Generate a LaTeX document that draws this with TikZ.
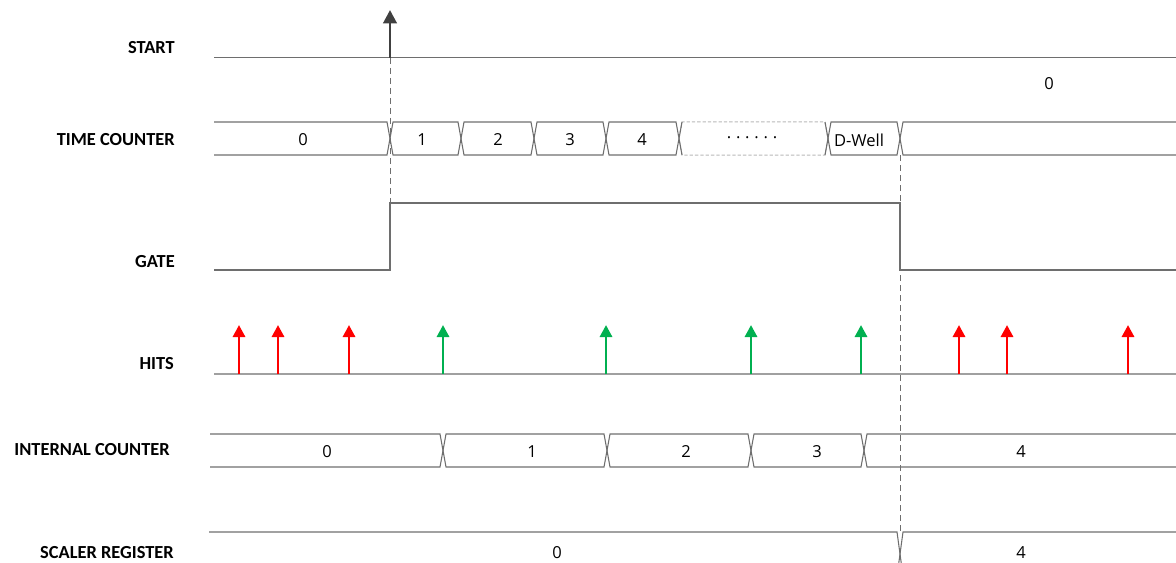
\documentclass[tikz,border=0pt]{standalone}
\usepackage{fontspec}
\setmainfont{Open Sans}
\newfontfamily\labfont{Carlito}
\usetikzlibrary{arrows.meta}
\definecolor{wire}{RGB}{110,110,110}
\definecolor{basec}{RGB}{160,160,160}
\definecolor{hitred}{RGB}{255,0,0}
\definecolor{hitgreen}{RGB}{0,176,80}
\definecolor{startc}{RGB}{64,64,64}
\definecolor{dotc}{RGB}{185,185,185}
\tikzset{
  lbl/.style={anchor=east, font=\labfont\bfseries\fontsize{13.8}{16}\selectfont, inner sep=0pt},
  val/.style={font=\fontsize{12.4}{14}\selectfont, inner sep=0pt},
  wireline/.style={draw=wire, line width=0.8pt},
  guide/.style={draw=wire, line width=0.75pt, dash pattern=on 4.5pt off 3pt},
  hit/.style={line width=2.2pt, -{Triangle[width=9pt,length=9pt]}},
}
% bus segment between transitions #1 and #2, top #3, bottom #4, style #5
\newcommand\busseg[5]{%
  \draw[#5] (#1,{(#3+#4)/2}) -- (#1+3,#3) -- (#2-3,#3) -- (#2,{(#3+#4)/2}) -- (#2-3,#4) -- (#1+3,#4) -- cycle;}
\newcommand\busfirst[4]{%
  \draw[wireline] (#1,#3) -- (#2-3,#3) -- (#2,{(#3+#4)/2}) -- (#2-3,#4) -- (#1,#4);}
\newcommand\buslast[4]{%
  \draw[wireline] (#2,#3) -- (#1+3,#3) -- (#1,{(#3+#4)/2}) -- (#1+3,#4) -- (#2,#4);}
\newcommand\dotgap{\hspace{3.6pt}}
\begin{document}
\begin{tikzpicture}[x=0.75pt,y=-0.75pt]
\useasboundingbox (0,0) rectangle (1176,563);

% labels
\node[lbl] (lstart) at (175,48) {START};
\node[lbl] (ltc) at (175,140) {TIME COUNTER};
\node[lbl] (lgate) at (175,262) {GATE};
\node[lbl] (lhits) at (174,364) {HITS};
\node[lbl] (lic) at (170,450) {INTERNAL COUNTER};
\node[lbl] (lsr) at (174,553) {SCALER REGISTER};

% guide coordinates
\coordinate (g1top) at (390,58);
\coordinate (g1bot) at (390,203);
\coordinate (g2top) at (900,155);
\coordinate (g2bot) at (900,532);
\draw[guide] (g1top) -- (g1bot);
\draw[guide] (g2top) -- (g2bot);

% START
\draw[wire, line width=0.75pt] (214,58) -- (1176,58);
\coordinate (sbase) at (390,58);
\coordinate (stip) at (390,10);
\draw[startc, line width=2.2pt, -{Triangle[width=10pt,length=10pt]}] (sbase) -- (stip);
\node[val] (szero) at (1049,84) {0};

% TIME COUNTER bus
\busfirst{214}{390}{122}{155}
\busseg{390}{461}{122}{155}{wireline}
\busseg{461}{534}{122}{155}{wireline}
\busseg{534}{606}{122}{155}{wireline}
\busseg{606}{679}{122}{155}{wireline}
\busseg{679}{828}{122}{155}{draw=dotc, line width=0.75pt, dash pattern=on 2.5pt off 1.5pt}
\draw[wireline] (679,138.5) -- (682,122) (679,138.5) -- (682,155) (828,138.5) -- (825,122) (828,138.5) -- (825,155);
\busseg{828}{900}{122}{155}{wireline}
\buslast{900}{1176}{122}{155}
\node[val] (t0) at (303,140) {0};
\node[val] (t1) at (422,140) {1};
\node[val] (t2) at (498,140) {2};
\node[val] (t3) at (570,140) {3};
\node[val] (t4) at (642,140) {4};
\node[val] (tdots) at (752,140) {·\dotgap·\dotgap·\dotgap·\dotgap·\dotgap·};
\node[val] (tdw) at (859,140) {D-Well};

% GATE
\draw[wireline] (214,270) -- (390,270) -- (390,203) -- (900,203) -- (900,270) -- (1176,270);

% HITS
\draw[draw=basec, line width=1.6pt] (214,374) -- (1176,374);
\foreach \x [count=\i] in {239,278,349,959,1007,1128} {
  \coordinate (hr\i) at (\x,374);
  \coordinate (hrt\i) at (\x,325);
  \draw[hit, hitred] (hr\i) -- (hrt\i);
}
\foreach \x [count=\i] in {443,606,751,861} {
  \coordinate (hg\i) at (\x,374);
  \coordinate (hgt\i) at (\x,325);
  \draw[hit, hitgreen] (hg\i) -- (hgt\i);
}

% INTERNAL COUNTER bus
\busfirst{210}{443}{434}{467}
\busseg{443}{607}{434}{467}{wireline}
\busseg{607}{751}{434}{467}{wireline}
\busseg{751}{864}{434}{467}{wireline}
\buslast{864}{1176}{434}{467}
\node[val] (i0) at (327,452) {0};
\node[val] (i1) at (532,452) {1};
\node[val] (i2) at (686,452) {2};
\node[val] (i3) at (817,452) {3};
\node[val] (i4) at (1021,452) {4};

% SCALER REGISTER bus
\busfirst{209}{900}{532}{576}
\buslast{900}{1176}{532}{576}
\node[val] (s0) at (557,553) {0};
\node[val] (s4) at (1021,553) {4};
\end{tikzpicture}
\end{document}
